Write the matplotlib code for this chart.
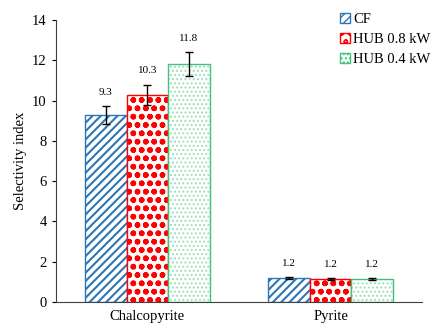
import matplotlib.pyplot as plt
import numpy as np

plt.rcParams['font.family'] = ['Liberation Serif', 'DejaVu Serif']

categories = ["Chalcopyrite", "Pyrite"]
series = ["CF", "HUB 0.8 kW", "HUB 0.4 kW"]
values = [[9.3, 1.2], [10.3, 1.15], [11.8, 1.15]]
errors = [[0.45, 0.05], [0.5, 0.05], [0.6, 0.05]]
labels = [["9.3", "1.2"], ["10.3", "1.2"], ["11.8", "1.2"]]

colors = ["#2E75B6", "#FF0000", "#3CC47C"]
hatch_colors = ["#2E75B6", "#FF0000", "#9ADDB8"]
hatches = ["////", "oo", "...."]
hatch_lw = [1.5, 1.7, 0.9]

fig = plt.figure(figsize=(4.33, 3.30), dpi=100)
ax = fig.add_axes([0.129, 0.085, 0.846, 0.854])

x = np.arange(len(categories))
w = 0.227
for i in range(len(series)):
    pos = x + (i - 1) * w
    # hatch in its own colour, outline on top
    bars = ax.bar(pos, values[i], w, color="white", edgecolor=hatch_colors[i],
                  hatch=hatches[i], linewidth=0, label=series[i])
    for b in bars:
        b.set_hatch_linewidth(hatch_lw[i])
    ax.bar(pos, values[i], w, color="none", edgecolor=colors[i], linewidth=1.0)
    ax.errorbar(pos, values[i], yerr=errors[i], fmt="none", ecolor="black",
                elinewidth=1.0, capsize=3, capthick=1.0)
    for j in range(len(categories)):
        ax.text(pos[j], values[i][j] + errors[i][j] + 0.45, labels[i][j],
                ha="center", va="bottom", fontsize=8)

ax.set_xlim(-0.5, 1.5)
ax.set_ylim(0, 14)
ax.set_yticks(range(0, 15, 2))
ax.set_xticks(x)
ax.set_xticklabels(categories, fontsize=10.5)
ax.tick_params(axis="y", labelsize=10.5, direction="out", length=3)
ax.tick_params(axis="x", length=0, pad=6)
ax.set_ylabel("Selectivity index", fontsize=10.5)
ax.spines["top"].set_visible(False)
ax.spines["right"].set_visible(False)
ax.spines["left"].set_color("#404040")
ax.spines["bottom"].set_color("#404040")

leg = ax.legend(loc="upper left", bbox_to_anchor=(0.76, 1.045), frameon=False, fontsize=10.5,
                handlelength=0.7, handleheight=0.7, handletextpad=0.2, labelspacing=0.45,
                borderaxespad=0)
for h, c in zip(leg.legend_handles, colors):
    h.set_edgecolor(c)
    h.set_linewidth(1.0)

fig.savefig("out.png", dpi=100)
